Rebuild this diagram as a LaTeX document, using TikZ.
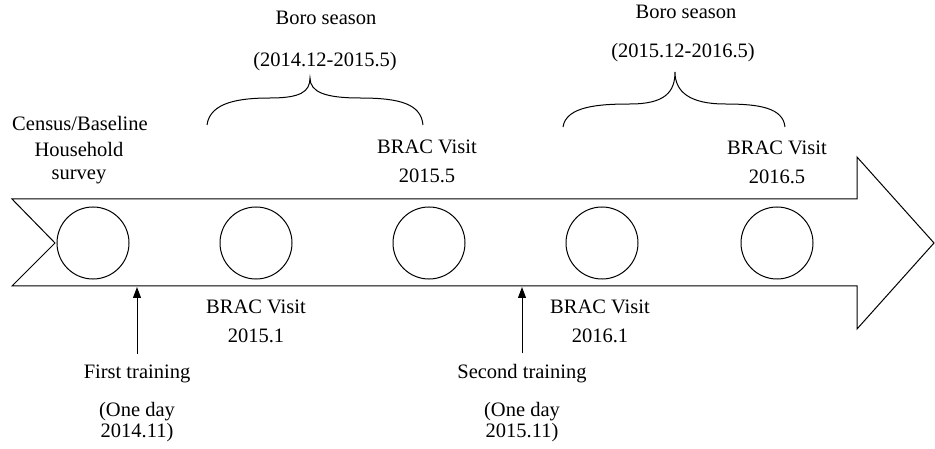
\documentclass[tikz,border=0pt]{standalone}
\usepackage{fontspec}
\setmainfont{Liberation Serif}
\usepackage{tikz}
\usetikzlibrary{positioning, arrows.meta}

\begin{document}
\begin{tikzpicture}[x=1pt, y=-1pt, line width=1pt,
    every node/.style={font=\fontsize{20.5}{29}\selectfont, align=center, inner sep=0pt},
    visit/.style={draw, circle, minimum size=72pt},
    pointer/.style={-{Triangle[width=8pt, length=11pt]}}]
    \useasboundingbox (0,0) rectangle (935,449);

    % timeline arrow
    \draw (12,199) -- (857,199) -- (857,157) -- (934,243) -- (857,329)
        -- (857,286) -- (12,286) -- (55,243) -- cycle;

    \node[visit] (c1) at (93,243) {};
    \node[visit] (c2) at (256,243) {};
    \node[visit] (c3) at (429,243) {};
    \node[visit] (c4) at (602,243) {};
    \node[visit] (c5) at (777,243) {};

    % labels above the timeline
    \node (census) at (80,123) {Census/Baseline};
    \node[font=\fontsize{20.5}{23}\selectfont] (house) at (79,163) {Household\\survey};
    \node (v3) at (427,161) {BRAC Visit\\2015.5};
    \node (v5) at (777,162) {BRAC Visit\\2016.5};

    % labels below the timeline
    \node (v2) at (256,321) {BRAC Visit\\2015.1};
    \node (v4) at (600,321) {BRAC Visit\\2016.1};

    % trainings
    \node (train1) at (137,374) {First training};
    \node[font=\fontsize{20.5}{21}\selectfont] (day1) at (137,422) {(One day\\2014.11)};
    \node (train2) at (522,374) {Second training};
    \node[font=\fontsize{20.5}{21}\selectfont] (day2) at (522,422) {(One day\\2015.11)};
    \coordinate (t1) at (137,287);
    \coordinate (t2) at (522,287);
    \draw[pointer] ([yshift=11pt]train1.north) -- (t1);
    \draw[pointer] ([yshift=11pt]train2.north) -- (t2);

    % Boro seasons
    \node (boro1) at (326,18) {Boro season};
    \node (span1) at (325,62) {(2014.12-2015.5)};
    \node (boro2) at (686,12) {Boro season};
    \node (span2) at (683,53) {(2015.12-2016.5)};
    \draw (207,125) .. controls (210,102) and (240,98) .. (270,98)
        .. controls (300,98) and (310,92) .. (310,78)
        .. controls (310,92) and (325,98) .. (360,98)
        .. controls (400,98) and (421,104) .. (423,125);
    \draw (563,127) .. controls (566,106) and (600,104) .. (630,104)
        .. controls (665,104) and (675,92) .. (675,72)
        .. controls (675,92) and (690,104) .. (725,104)
        .. controls (760,104) and (783,108) .. (785,127);
\end{tikzpicture}
\end{document}
